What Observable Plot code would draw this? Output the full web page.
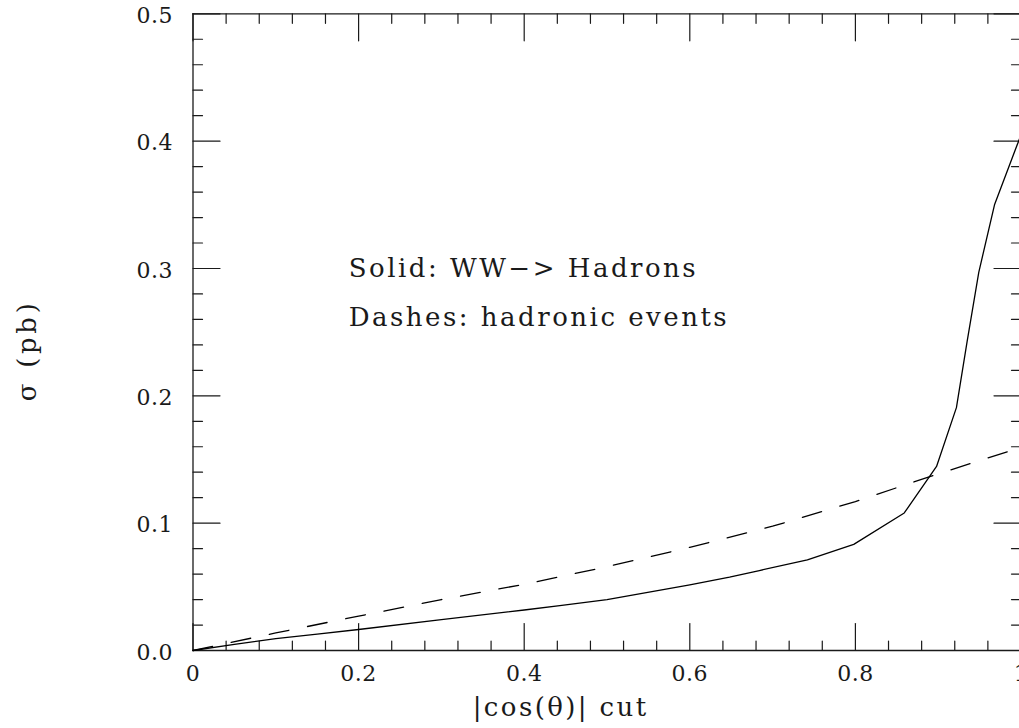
<!DOCTYPE html>
<html>
<head>
<meta charset="utf-8">
<script src="https://cdn.jsdelivr.net/npm/d3@7"></script>
<script src="https://cdn.jsdelivr.net/npm/@observablehq/plot@0.6"></script>
<style>
  html, body { margin: 0; padding: 0; background: #fff; overflow: hidden; }
  [aria-description="note"] text { letter-spacing: 2.5px; }
  [aria-description="x-title"] text { letter-spacing: 2.4px; }
  [aria-description="y-title"] text { letter-spacing: 3.7px; }
  [aria-description="tick-labels"] text { letter-spacing: 0.5px; }
</style>
</head>
<body>
<div id="chart"></div>
<script>
// Solid: WW -> hadrons
const solidX = [0, 0.05, 0.1, 0.15, 0.2, 0.3, 0.4, 0.443, 0.5, 0.6, 0.648, 0.684, 0.742, 0.798, 0.859, 0.898, 0.922, 0.935, 0.949, 0.968, 1.0];
const solidY = [0, 0.0048, 0.0094, 0.0128, 0.0165, 0.0242, 0.0318, 0.0353, 0.0400, 0.0515, 0.0576, 0.0628, 0.0712, 0.0833, 0.1080, 0.1445, 0.1907, 0.2430, 0.2970, 0.3500, 0.4050];
// Dashes: hadronic events
const dashX = [0, 0.1, 0.2, 0.3, 0.4, 0.5, 0.6, 0.7, 0.8, 0.9, 1.0];
const dashY = [0, 0.0138, 0.0270, 0.0400, 0.0520, 0.0658, 0.0810, 0.0976, 0.1170, 0.1387, 0.1595];

const xMajorTicks = [0, 0.2, 0.4, 0.6, 0.8, 1];
const xTickLabels = ["0", "0.2", "0.4", "0.6", "0.8", "1"];
const xMinorTicks = [0.04, 0.08, 0.12, 0.16, 0.24, 0.28, 0.32, 0.36, 0.44, 0.48, 0.52, 0.56, 0.64, 0.68, 0.72, 0.76, 0.84, 0.88, 0.92, 0.96];
const yMajorTicks = [0, 0.1, 0.2, 0.3, 0.4, 0.5];
const yTickLabels = ["0.0", "0.1", "0.2", "0.3", "0.4", "0.5"];
const yMinorTicks = [0.02, 0.04, 0.06, 0.08, 0.12, 0.14, 0.16, 0.18, 0.22, 0.24, 0.26, 0.28, 0.32, 0.34, 0.36, 0.38, 0.42, 0.44, 0.46, 0.48];

const notes = ["Solid: WW\u2212> Hadrons", "Dashes: hadronic events"];
const xTitle = "|cos(\u03b8)| cut";
const yTitle = "\u03c3 (pb)";

const solid = solidX.map((x, i) => ({x, y: solidY[i]}));
const dashed = dashX.map((x, i) => ({x, y: dashY[i]}));

const ink = "#1a1a1a";
const tickShape = {draw(ctx, l) { ctx.moveTo(0, 0); ctx.lineTo(0, -l); }};
const MAJ = 27, MIN = 9.5;
const tk = (data, opts, len) => Plot.vector(data, {anchor: "start", shape: tickShape, length: len, stroke: ink, strokeWidth: 1.2, ...opts});

const plot = Plot.plot({
  width: 1019,
  height: 728,
  marginTop: 13.3,
  marginBottom: 78,
  marginLeft: 192.5,
  marginRight: 0,
  style: {fontFamily: "'DejaVu Serif', serif", background: "#fff", color: ink},
  x: {domain: [0, 1], range: [192.5, 1020.5], axis: null},
  y: {domain: [0, 0.5], range: [650, 13.3], axis: null},
  marks: [
    // frame
    Plot.ruleY([0, 0.5], {x1: 0, x2: 1, stroke: ink, strokeWidth: 1.3}),
    Plot.ruleX([0, 1], {y1: 0, y2: 0.5, stroke: ink, strokeWidth: 1.3}),
    // ticks bottom (inward, up)
    tk(xMajorTicks, {x: d => d, y: 0, rotate: 0}, MAJ),
    tk(xMinorTicks, {x: d => d, y: 0, rotate: 0}, MIN),
    // ticks top (inward, down)
    tk(xMajorTicks, {x: d => d, y: 0.5, rotate: 180}, MAJ),
    tk(xMinorTicks, {x: d => d, y: 0.5, rotate: 180}, MIN),
    // ticks left (inward, right)
    tk(yMajorTicks, {y: d => d, x: 0, rotate: 90}, MAJ),
    tk(yMinorTicks, {y: d => d, x: 0, rotate: 90}, MIN),
    // ticks right (inward, left)
    tk(yMajorTicks, {y: d => d, x: 1, rotate: -90}, MAJ),
    tk(yMinorTicks, {y: d => d, x: 1, rotate: -90}, MIN),
    // tick labels
    Plot.text(xMajorTicks, {x: d => d, y: 0, text: (d, i) => xTickLabels[i], lineAnchor: "top", dy: 15, fontSize: 22, fill: ink, ariaDescription: "tick-labels"}),
    Plot.text(yMajorTicks, {x: 0, y: d => d, text: (d, i) => yTickLabels[i], textAnchor: "end", dx: -20, dy: 2, fontSize: 22, fill: ink, ariaDescription: "tick-labels"}),
    // axis titles
    Plot.text([xTitle], {x: 0.444, y: 0, text: d => d, lineAnchor: "bottom", dy: 65, fontSize: 26, fill: ink, ariaDescription: "x-title"}),
    Plot.text([yTitle], {x: -0.2, y: 0.2357, text: d => d, rotate: -90, fontSize: 26, fill: ink, ariaDescription: "y-title"}),
    // curves
    Plot.line(dashed, {x: "x", y: "y", stroke: "#000", strokeWidth: 1.3, strokeDasharray: "20,19"}),
    Plot.line(solid, {x: "x", y: "y", stroke: "#000", strokeWidth: 1.3}),
    // notes
    Plot.text(notes, {x: 0.188, y: (d, i) => [0.293, 0.255][i], text: d => d, textAnchor: "start", lineAnchor: "bottom", fontSize: 26, fill: ink, ariaDescription: "note"})
  ]
});
document.getElementById("chart").appendChild(plot);
</script>
</body>
</html>
